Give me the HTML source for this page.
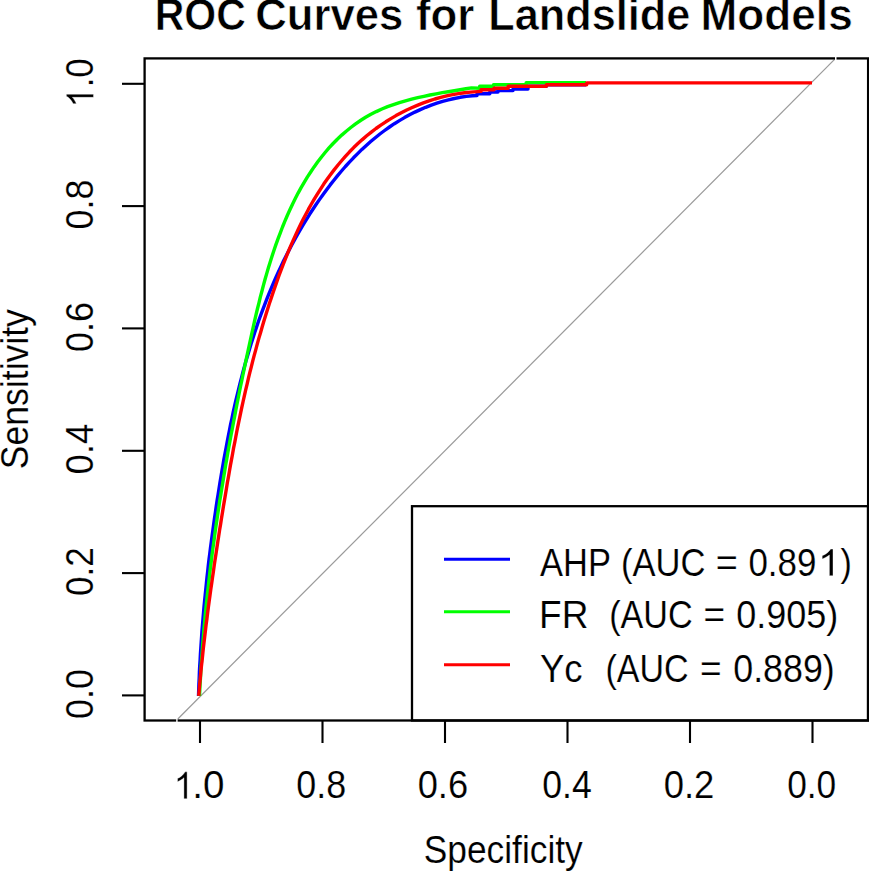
<!DOCTYPE html>
<html><head><meta charset="utf-8"><style>
html,body{margin:0;padding:0;background:#fff;width:869px;height:871px;overflow:hidden}
svg{display:block}
text{font-family:"Liberation Sans",sans-serif;fill:#000;stroke:#fff;stroke-width:0.15px}
</style></head><body>
<svg width="869" height="871" viewBox="0 0 869 871">
<rect width="869" height="871" fill="#fff"/>
<text transform="translate(154.75,30.2) scale(0.9489,1.02)" font-size="43.2" font-weight="bold" style="stroke-width:0.6px">ROC</text>
<text transform="translate(255.18,30.2) scale(1.0112,1.02)" font-size="43.2" font-weight="bold" style="stroke-width:0.6px">Curves</text>
<text transform="translate(415.89,30.2) scale(1.0142,1.02)" font-size="43.2" font-weight="bold" style="stroke-width:0.6px">for</text>
<text transform="translate(488.19,30.2) scale(1.0030,1.02)" font-size="43.2" font-weight="bold" style="stroke-width:0.6px">Landslide</text>
<text transform="translate(700.53,30.2) scale(1.0229,1.02)" font-size="43.2" font-weight="bold" style="stroke-width:0.6px">Models</text>
<line x1="176.8" y1="720" x2="834.8" y2="59.2" stroke="#9a9a9a" stroke-width="1.2"/>
<g fill="none" stroke-width="3.4" stroke-linejoin="round" stroke-linecap="butt">
<polyline stroke="#0000ff" points="198.5,696.0 198.7,690.0 198.9,684.1 199.2,678.1 199.4,672.2 199.7,666.2 200.1,660.3 200.4,654.3 200.8,648.4 201.2,642.4 201.6,636.5 202.0,630.6 202.5,624.6 203.0,618.7 203.5,612.8 204.0,606.8 204.6,600.9 205.2,595.0 205.8,589.1 206.4,583.1 207.0,577.2 207.7,571.3 208.3,565.4 209.0,559.5 209.8,553.6 210.5,547.7 211.3,541.7 212.1,535.8 212.9,529.9 213.7,524.1 214.5,518.2 215.4,512.3 216.2,506.4 217.1,500.5 218.1,494.6 219.0,488.7 219.9,482.9 220.9,477.0 221.9,471.1 222.9,465.3 223.9,459.4 225.0,453.5 226.1,447.7 227.2,441.8 228.3,436.0 229.5,430.2 230.6,424.3 231.9,418.5 233.1,412.7 234.4,406.9 235.7,401.1 237.1,395.3 238.5,389.6 239.9,383.8 241.4,378.1 242.9,372.3 244.4,366.6 246.0,360.9 247.7,355.2 249.4,349.5 251.1,343.8 252.9,338.2 254.7,332.5 256.6,326.9 258.5,321.3 260.5,315.7 262.6,310.2 264.7,304.6 266.8,299.1 269.0,293.6 271.3,288.1 273.6,282.7 276.0,277.2 278.5,271.8 281.0,266.4 283.5,261.1 286.2,255.7 288.9,250.4 291.6,245.2 294.5,239.9 297.4,234.7 300.3,229.6 303.4,224.4 306.5,219.3 309.6,214.3 312.9,209.3 316.2,204.3 319.6,199.4 323.1,194.5 326.6,189.7 330.2,184.9 333.9,180.2 337.6,175.6 341.5,171.0 345.4,166.5 349.4,162.1 353.5,157.8 357.7,153.6 361.9,149.4 366.3,145.4 370.7,141.5 375.3,137.7 379.9,134.0 384.6,130.5 389.5,127.0 394.4,123.7 399.4,120.6 404.5,117.6 409.6,114.8 414.9,112.1 420.3,109.6 425.7,107.3 431.3,105.1 436.9,103.2 442.6,101.4 448.4,99.9 454.3,98.5 460.2,97.3 466.3,96.4 472.4,95.7 477.0,95.5 477.0,93.7 489.8,93.7 489.8,92.0 498.0,92.0 498.0,90.6 513.0,90.6 513.0,89.1 528.0,89.1 528.0,86.3 546.4,86.3 546.4,84.7 586.0,84.7"/>
<polyline stroke="#00ff00" points="199.5,696.0 199.8,689.9 200.1,683.8 200.5,677.6 200.8,671.5 201.2,665.4 201.6,659.3 202.1,653.1 202.5,647.0 203.0,640.9 203.5,634.8 204.0,628.7 204.6,622.6 205.1,616.5 205.7,610.4 206.3,604.3 207.0,598.2 207.6,592.1 208.3,586.1 209.0,580.0 209.7,573.9 210.4,567.8 211.2,561.7 211.9,555.7 212.7,549.6 213.6,543.5 214.4,537.5 215.2,531.4 216.1,525.3 217.0,519.3 217.9,513.2 218.8,507.2 219.7,501.1 220.7,495.1 221.7,489.0 222.7,483.0 223.7,476.9 224.7,470.9 225.7,464.8 226.8,458.8 227.8,452.8 228.9,446.7 230.0,440.7 231.1,434.7 232.3,428.6 233.4,422.6 234.6,416.6 235.7,410.6 236.9,404.5 238.1,398.5 239.3,392.5 240.5,386.5 241.8,380.5 243.0,374.5 244.3,368.5 245.5,362.6 246.8,356.6 248.1,350.6 249.4,344.6 250.7,338.7 252.0,332.7 253.3,326.8 254.6,320.8 256.0,314.9 257.4,309.0 258.9,303.1 260.3,297.1 261.9,291.2 263.4,285.3 265.0,279.5 266.7,273.6 268.4,267.7 270.2,261.9 272.1,256.0 274.0,250.2 276.0,244.4 278.1,238.6 280.3,232.8 282.5,227.0 284.9,221.2 287.3,215.5 289.9,209.8 292.5,204.2 295.3,198.6 298.1,193.1 301.1,187.7 304.2,182.4 307.3,177.1 310.7,172.0 314.1,166.9 317.6,162.0 321.3,157.2 325.1,152.5 329.0,147.9 333.1,143.5 337.3,139.2 341.7,135.1 346.2,131.2 350.8,127.5 355.6,123.9 360.5,120.5 365.6,117.3 370.9,114.3 376.3,111.6 381.9,109.0 387.6,106.7 393.5,104.6 399.4,102.6 405.5,100.8 411.6,99.2 417.7,97.7 423.9,96.3 430.0,95.0 436.2,93.8 442.3,92.7 448.3,91.7 454.3,90.7 460.2,89.7 465.9,88.8 471.5,87.9 479.7,88.2 479.7,86.3 493.5,86.3 493.5,84.8 526.2,84.8 526.2,82.6 586.0,82.6"/>
<polyline stroke="#ff0000" points="198.7,695.9 199.2,690.0 199.7,684.1 200.3,678.2 200.8,672.3 201.4,666.3 202.1,660.4 202.7,654.5 203.3,648.6 204.0,642.6 204.7,636.7 205.4,630.8 206.1,624.8 206.9,618.9 207.6,613.0 208.4,607.0 209.2,601.1 210.0,595.2 210.8,589.2 211.7,583.3 212.5,577.4 213.4,571.4 214.2,565.5 215.1,559.6 216.0,553.7 216.9,547.7 217.8,541.8 218.7,535.9 219.6,530.0 220.6,524.1 221.5,518.2 222.5,512.3 223.4,506.4 224.4,500.6 225.4,494.7 226.4,488.8 227.3,483.0 228.4,477.1 229.4,471.3 230.4,465.4 231.5,459.6 232.6,453.7 233.6,447.9 234.8,442.1 235.9,436.3 237.0,430.5 238.2,424.7 239.4,418.9 240.6,413.1 241.8,407.3 243.1,401.5 244.4,395.7 245.7,389.9 247.1,384.1 248.4,378.4 249.8,372.6 251.3,366.9 252.7,361.1 254.2,355.4 255.8,349.6 257.3,343.9 258.9,338.1 260.6,332.4 262.2,326.7 263.9,320.9 265.7,315.2 267.5,309.5 269.3,303.8 271.2,298.1 273.1,292.4 275.1,286.7 277.1,281.0 279.1,275.3 281.2,269.6 283.4,264.0 285.6,258.3 287.9,252.7 290.2,247.1 292.6,241.6 295.1,236.1 297.6,230.6 300.2,225.2 302.9,219.8 305.7,214.5 308.5,209.2 311.4,204.0 314.4,198.8 317.5,193.8 320.7,188.8 323.9,183.8 327.3,179.0 330.8,174.2 334.3,169.6 338.0,165.0 341.8,160.5 345.6,156.1 349.6,151.8 353.7,147.6 357.9,143.6 362.3,139.6 366.7,135.8 371.3,132.1 376.0,128.5 380.8,125.1 385.8,121.8 390.9,118.6 396.0,115.6 401.3,112.7 406.7,110.0 412.2,107.5 417.8,105.1 423.4,102.9 429.1,100.9 434.9,99.0 440.7,97.4 446.6,95.9 452.6,94.6 458.5,93.6 464.5,92.7 470.6,92.1 481.0,91.4 481.0,89.8 494.0,89.8 494.0,88.2 508.2,88.2 508.2,86.3 546.4,86.3 546.4,84.7 586.7,84.7 586.7,82.9 812.0,82.9"/>
</g>
<g stroke="#000" stroke-width="2.3" fill="none">
<rect x="144.6" y="58.4" width="723.5" height="662.1"/>
<rect x="412" y="506.2" width="456" height="214.3"/>
</g>
<rect x="835" y="56" width="1.5" height="5" fill="#fff"/>
<rect x="176.2" y="718.3" width="1.4" height="4.4" fill="#fff"/>
<g stroke="#000" stroke-width="2.1">
<line x1="122" y1="695.4" x2="144.5" y2="695.4"/>
<line x1="122" y1="573.1" x2="144.5" y2="573.1"/>
<line x1="122" y1="450.8" x2="144.5" y2="450.8"/>
<line x1="122" y1="328.4" x2="144.5" y2="328.4"/>
<line x1="122" y1="206.1" x2="144.5" y2="206.1"/>
<line x1="122" y1="83.8" x2="144.5" y2="83.8"/>
<line x1="200.0" y1="720.5" x2="200.0" y2="743"/>
<line x1="322.5" y1="720.5" x2="322.5" y2="743"/>
<line x1="445.0" y1="720.5" x2="445.0" y2="743"/>
<line x1="567.5" y1="720.5" x2="567.5" y2="743"/>
<line x1="690.0" y1="720.5" x2="690.0" y2="743"/>
<line x1="812.5" y1="720.5" x2="812.5" y2="743"/>
</g>
<path transform="translate(93.5,107.62) rotate(-90) scale(0.01759,-0.01843)" d="M763 0H583V1147Q518 1085 412.5 1023T223 930V1104Q374 1175 487 1276T647 1472H763V0Z" fill="#000" stroke="#fff" stroke-width="22.7"/>
<text transform="translate(93.3,87.29) rotate(-90) scale(0.9385,1.035)" font-size="37">.0</text>
<text transform="translate(93.3,229.56) rotate(-90) scale(0.9711,1.035)" font-size="37">0.8</text>
<text transform="translate(93.3,351.96) rotate(-90) scale(0.9711,1.035)" font-size="37">0.6</text>
<text transform="translate(93.3,474.38) rotate(-90) scale(0.9837,1.035)" font-size="37">0.4</text>
<text transform="translate(93.3,596.03) rotate(-90) scale(0.9481,1.035)" font-size="37">0.2</text>
<text transform="translate(93.3,719.06) rotate(-90) scale(0.9712,1.035)" font-size="37">0.0</text>
<path transform="translate(173.54,798.8) scale(0.01778,-0.01834)" d="M763 0H583V1147Q518 1085 412.5 1023T223 930V1104Q374 1175 487 1276T647 1472H763V0Z" fill="#000" stroke="#fff" stroke-width="22.5"/>
<text transform="translate(192.26,798.3) scale(1.0423,1.035)" font-size="37">.0</text>
<text transform="translate(296.29,798.3) scale(0.9701,1.035)" font-size="37">0.8</text>
<text transform="translate(417.63,798.3) scale(0.9814,1.035)" font-size="37">0.6</text>
<text transform="translate(542.25,798.3) scale(0.9633,1.035)" font-size="37">0.4</text>
<text transform="translate(663.72,798.3) scale(0.9855,1.035)" font-size="37">0.2</text>
<text transform="translate(787.16,798.3) scale(0.9547,1.035)" font-size="37">0.0</text>
<text transform="translate(423.78,863.0) scale(0.9545,1.035)" font-size="37">Specificity</text>
<text transform="translate(28.1,469.13) rotate(-90) scale(0.9606,1.035)" font-size="37">Sensitivity</text>
<line x1="444" y1="559.2" x2="510" y2="559.2" stroke="#0000ff" stroke-width="2.9"/>
<line x1="444" y1="611.8" x2="510" y2="611.8" stroke="#00ff00" stroke-width="2.9"/>
<line x1="444" y1="664.8" x2="510" y2="664.8" stroke="#ff0000" stroke-width="2.9"/>
<text transform="translate(540.01,575.5) scale(0.9324,1.035)" font-size="37">AHP</text>
<text transform="translate(539.10,627.9) scale(1.0000,1.035)" font-size="37">FR</text>
<text transform="translate(539.91,681.8) scale(0.9855,1.035)" font-size="37">Yc</text>
<text transform="translate(621.05,575.5) scale(0.9331,1.035)" font-size="37">(AUC</text>
<text transform="translate(609.18,627.9) scale(0.9227,1.035)" font-size="37">(AUC</text>
<text transform="translate(605.49,681.8) scale(0.9193,1.035)" font-size="37">(AUC</text>
<text transform="translate(715.66,575.5) scale(1.0222,1.035)" font-size="37">=</text>
<text transform="translate(703.50,627.9) scale(1.0000,1.035)" font-size="37">=</text>
<text transform="translate(699.90,681.8) scale(1.0000,1.035)" font-size="37">=</text>
<text transform="translate(748.38,575.5) scale(0.9448,1.035)" font-size="37">0.89</text>
<path transform="translate(817.74,575.7) scale(0.02000,-0.01807)" d="M763 0H583V1147Q518 1085 412.5 1023T223 930V1104Q374 1175 487 1276T647 1472H763V0Z" fill="#000" stroke="#fff" stroke-width="20.0"/>
<text transform="translate(840.62,575.5) scale(0.9175,1.035)" font-size="37">)</text>
<text transform="translate(736.24,627.9) scale(0.9723,1.035)" font-size="37">0.905)</text>
<text transform="translate(733.25,681.8) scale(0.9674,1.035)" font-size="37">0.889)</text>
</svg>
</body></html>
